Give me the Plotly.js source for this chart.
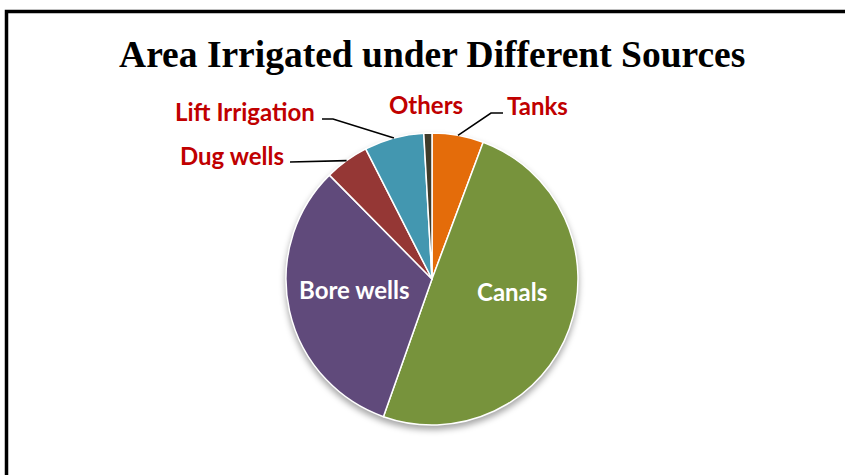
<!DOCTYPE html>
<html>
<head>
<meta charset="utf-8">
<script src="https://cdn.plot.ly/plotly-3.0.1.min.js"></script>
<style>
  html, body { margin: 0; padding: 0; background: #fff; }
  #chart { width: 845px; height: 475px; }
  #chart .pielayer { filter: drop-shadow(0px 4px 3px rgba(0,0,0,0.35)); }
</style>
</head>
<body>
<div id="chart"></div>
<script>
// ---- data ----
const labels = ['Tanks', 'Canals', 'Bore wells', 'Dug wells', 'Lift Irrigation', 'Others'];
const values = [5.7, 49.7, 32.2, 4.9, 6.6, 0.9];
const sliceColors = ['#E46C0A', '#77933C', '#604A7B', '#953735', '#4397B0', '#3F3B2A'];
const chartTitle = 'Area Irrigated under Different Sources';

// ---- layout geometry (pixels) ----
const W = 845, H = 475;
const cx = 432, cy = 279, R = 146;
const px = x => x / W;
const py = y => 1 - y / H;
const labelFont = 'Lato, "Open Sans", sans-serif';

// label placement (pixel centres) and leader elbows
const labelPos = {
  'Tanks':           { x: 537, y: 105, color: '#C00000', path: [[503, 113], [491, 113]] },
  'Others':          { x: 426, y: 104, color: '#C00000', path: null },
  'Lift Irrigation': { x: 245, y: 111, color: '#C00000', path: [[322, 119], [333, 119]] },
  'Dug wells':       { x: 232, y: 155, color: '#C00000', path: [[290, 162]] },
  'Canals':          { x: 512, y: 291, color: '#FFFFFF', path: null },
  'Bore wells':      { x: 354, y: 289, color: '#FFFFFF', path: null }
};

// mid-angles of slices from data (clockwise from 12 o'clock)
const total = values.reduce((a, b) => a + b, 0);
let cum = 0;
const midAngle = {};
values.forEach((v, i) => {
  midAngle[labels[i]] = (cum + v / 2) / total * 2 * Math.PI;
  cum += v;
});

const annotations = [];
const shapes = [];
labels.forEach(name => {
  const o = labelPos[name];
  annotations.push({
    text: name, xref: 'paper', yref: 'paper', x: px(o.x), y: py(o.y),
    xanchor: 'center', yanchor: 'middle', showarrow: false,
    font: { family: labelFont, size: 24, color: o.color, weight: 'bold' }
  });
  if (o.path) {
    const a = midAngle[name];
    const tip = [cx + R * Math.sin(a), cy - R * Math.cos(a)];
    const pts = o.path.concat([tip]);
    const d = pts.map((p, k) => (k ? 'L' : 'M') + px(p[0]).toFixed(5) + ',' + py(p[1]).toFixed(5)).join(' ');
    shapes.push({ type: 'path', xref: 'paper', yref: 'paper', path: d, line: { color: '#000', width: 1.6 } });
  }
});

// frame (left + top border; extends beyond the picture)
shapes.push({ type: 'rect', xref: 'paper', yref: 'paper',
  x0: px(6.5), x1: px(W + 20), y0: py(H + 20), y1: py(11.5),
  line: { color: '#000', width: 3.5 }, fillcolor: 'rgba(0,0,0,0)' });

const trace = {
  type: 'pie',
  labels: labels,
  values: values,
  textinfo: 'none',
  sort: false,
  direction: 'clockwise',
  rotation: 0,
  marker: { colors: sliceColors, line: { color: '#FFFFFF', width: 1.5 } },
  domain: { x: [px(cx - R), px(cx + R)], y: [py(cy + R), py(cy - R)] },
  hoverinfo: 'label+percent'
};

const layout = {
  width: W, height: H,
  margin: { l: 0, r: 0, t: 0, b: 0 },
  paper_bgcolor: '#FFFFFF',
  showlegend: false,
  title: {
    text: '<b>' + chartTitle + '</b>',
    font: { family: '"Liberation Serif", "Times New Roman", serif', size: 37.5, color: '#000' },
    x: 0.5115, xanchor: 'center', xref: 'paper',
    y: py(54), yanchor: 'middle', yref: 'paper'
  },
  annotations: annotations,
  shapes: shapes
};

Plotly.newPlot('chart', [trace], layout, { displayModeBar: false, staticPlot: true });
</script>
</body>
</html>
